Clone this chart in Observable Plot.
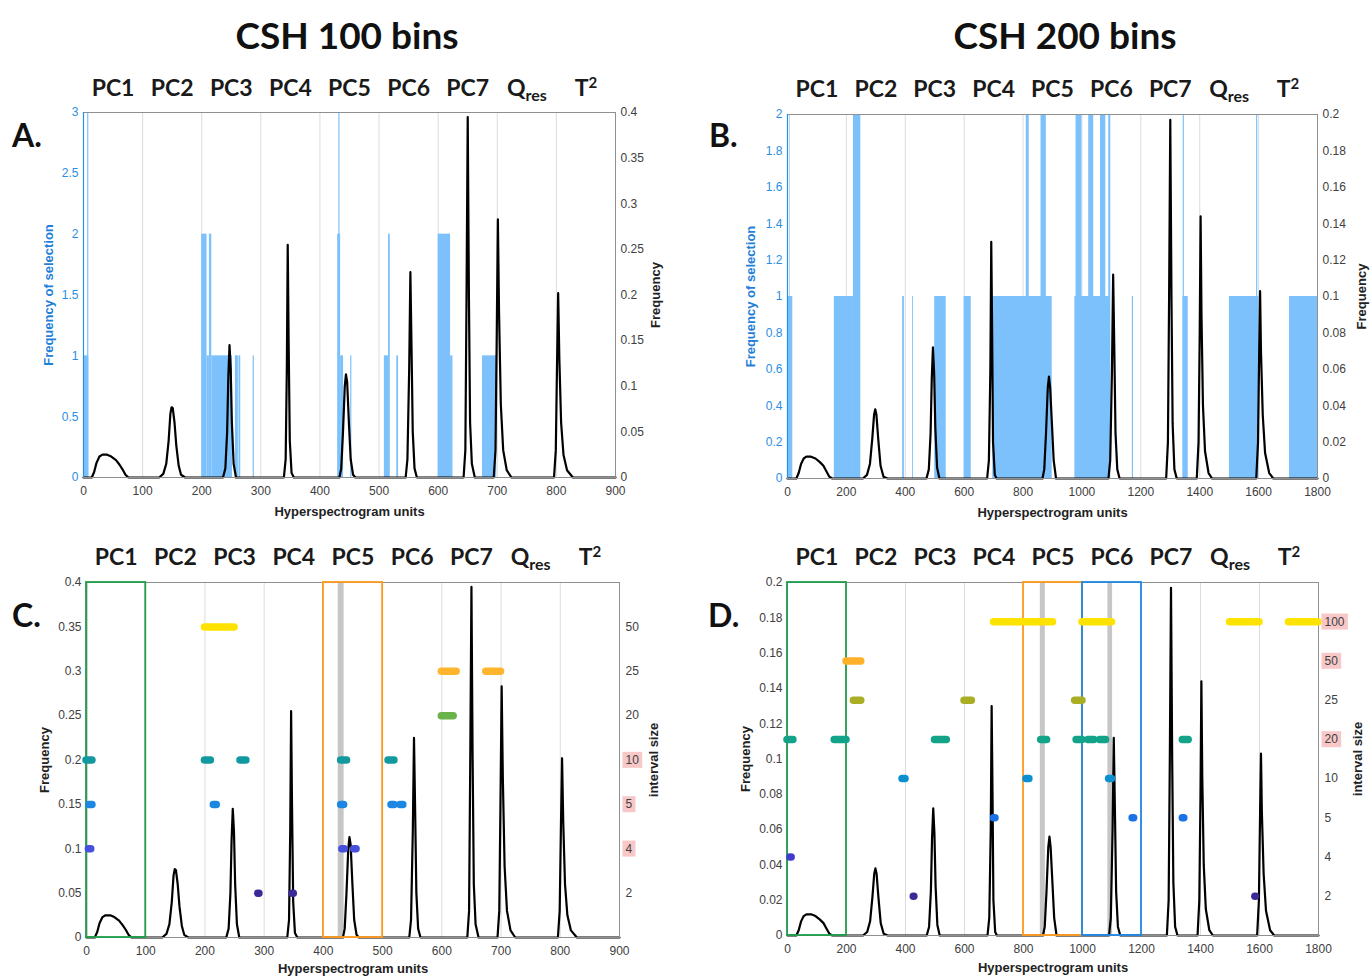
<!DOCTYPE html>
<html><head><meta charset="utf-8">
<script src="https://cdn.jsdelivr.net/npm/d3@7"></script>
<script src="https://cdn.jsdelivr.net/npm/@observablehq/plot@0.6"></script>
<style>
body{margin:0;background:#fff;}
#wrap{position:relative;width:1370px;height:978px;overflow:hidden;background:#fff;}
.t{position:absolute;font-family:Lato,"Open Sans",sans-serif;font-weight:700;color:#111;line-height:1;white-space:nowrap;}
.title{font-size:37px;width:400px;text-align:center;}
.letter{font-size:32px;}
</style></head><body><div id="wrap"></div>
<script>
// ---------- data ----------
const pcLabels = ["PC1","PC2","PC3","PC4","PC5","PC6","PC7","Qres","T2"];
const xTicks100 = [0,100,200,300,400,500,600,700,800,900];
const xTicks200 = [0,200,400,600,800,1000,1200,1400,1600,1800];
const selTicksA = [0,0.5,1,1.5,2,2.5,3];
const selTicksB = [0,0.2,0.4,0.6,0.8,1,1.2,1.4,1.6,1.8,2];
const freqTicks100 = [0,0.05,0.1,0.15,0.2,0.25,0.3,0.35,0.4];
const freqTicks200 = [0,0.02,0.04,0.06,0.08,0.1,0.12,0.14,0.16,0.18,0.2];

// frequency curve, 100 bins (x unit, frequency)
const curve100 = [[0,0],[14,0],[18,0.006],[22,0.016],[27,0.023],[32,0.025],[40,0.025],[47,0.023],[55,0.019],[61,0.014],[66,0.009],[71,0.003],[76,0],
[128,0],[135,0.004],[140,0.015],[144,0.04],[147,0.07],[149,0.077],[151,0.076],[154,0.06],[157,0.035],[161,0.013],[165,0.003],[172,0],
[236,0],[240,0.01],[243,0.05],[245,0.11],[247,0.145],[249,0.12],[251,0.06],[254,0.015],[258,0],
[339,0],[342,0.02],[344,0.12],[345.5,0.255],[347,0.15],[349,0.04],[352,0.005],[356,0],
[433,0],[436,0.01],[439,0.05],[442,0.1],[444,0.113],[446,0.105],[449,0.06],[452,0.02],[456,0.003],[460,0],
[545,0],[548,0.02],[551,0.12],[553,0.225],[555,0.14],[557,0.05],[560,0.01],[564,0],
[643,0],[646,0.03],[648,0.2],[650,0.395],[652,0.2],[654,0.06],[657,0.015],[662,0],
[694,0],[697,0.03],[699,0.15],[701,0.283],[703,0.18],[706,0.08],[710,0.03],[716,0.008],[724,0],
[796,0],[799,0.03],[801,0.12],[803,0.202],[805,0.13],[808,0.06],[812,0.025],[818,0.008],[828,0],[900,0]];

// frequency curve, 200 bins
const curve200 = [[0,0],[30,0],[38,0.003],[46,0.008],[55,0.011],[64,0.012],[80,0.012],[95,0.011],[110,0.009],[122,0.007],[132,0.004],[142,0.001],[152,0],
[256,0],[270,0.002],[280,0.008],[288,0.022],[294,0.035],[298,0.038],[302,0.035],[308,0.022],[316,0.007],[326,0.001],[340,0],
[472,0],[480,0.005],[486,0.025],[490,0.055],[494,0.072],[498,0.058],[502,0.028],[508,0.006],[516,0],
[678,0],[684,0.01],[689,0.06],[692,0.13],[695,0.08],[698,0.02],[704,0.002],[710,0],
[866,0],[872,0.005],[878,0.025],[884,0.05],[888,0.056],[892,0.05],[898,0.03],[904,0.01],[912,0],
[1090,0],[1096,0.01],[1102,0.06],[1106,0.112],[1110,0.07],[1114,0.025],[1120,0.005],[1128,0],
[1286,0],[1292,0.02],[1296,0.1],[1300,0.197],[1304,0.1],[1308,0.03],[1314,0.005],[1322,0],
[1390,0],[1396,0.02],[1400,0.08],[1403,0.144],[1406,0.09],[1411,0.04],[1418,0.015],[1430,0.003],[1442,0],
[1592,0],[1598,0.02],[1602,0.07],[1605,0.103],[1608,0.07],[1614,0.035],[1622,0.014],[1636,0.003],[1650,0],[1800,0]];

// selection frequency bars [x1, x2, count]
const barsA = [[0,9,1],[7,9,3],[200,209,2],[209,213,1],[213,217,2],[217,252,1],[257,262,1],[263,266,1],[287,289,1],
[430,435,2],[432,434,3],[435,440,1],[452,454,1],[509,516,1],[516,519,2],[530,533,1],[600,621,2],[621,625,1],[675,699,1]];
const barsB = [[0,18,1],[8,10,2],[159,224,1],[224,249,2],[391,397,1],[425,428,1],[500,539,1],[600,624,1],[697,899,1],
[811,821,2],[861,879,2],[976,1097,1],[980,1000,2],[1023,1040,2],[1063,1081,2],[1091,1098,2],[1171,1175,1],
[1343,1361,1],[1344,1348,2],[1501,1601,1],[1593,1597,2],[1705,1800,1]];

// interval size levels and selected intervals [size, x1, x2]
const sizesC = [2,4,5,10,20,25,50];
const colorsC = ["#3b2a96","#4650dc","#1b87e3","#12989f","#6ab34a","#ffb62e","#ffe200"];
const highlightC = ["4","5","10"];
const markersC = [[50,200,250],[25,600,625],[25,675,700],[20,600,620],
[10,0,10],[10,200,210],[10,260,270],[10,430,440],[10,510,520],
[5,5,10],[5,215,220],[5,430,435],[5,515,520],[5,530,535],
[4,4,8],[4,432,436],[4,452,456],[2,290,292],[2,348,350]];
const bandsC = [[0,3],[425,435]];
const boxesC = [[0,100,"#1f9e4b"],[400,500,"#ff9a1c"]];

const sizesD = [2,4,5,10,20,25,50,100];
const colorsD = ["#3b2a96","#4338d0","#1a72e6","#0b8fd0","#12a388","#a9ae25","#ffb12a","#ffe300"];
const highlightD = ["20","50","100"];
const markersD = [[100,700,900],[100,1000,1100],[100,1500,1600],[100,1700,1800],
[50,200,250],[25,225,250],[25,600,625],[25,975,1000],
[20,0,20],[20,160,200],[20,500,540],[20,860,880],[20,980,1000],[20,1020,1040],[20,1060,1080],[20,1340,1360],
[10,390,400],[10,810,820],[10,1090,1100],[5,700,705],[5,1170,1175],[5,1340,1345],[4,10,14],[2,428,430],[2,1586,1588]];
const bandsD = [[857,874],[1086,1102]];
const boxesD = [[0,200,"#1f9e4b"],[800,1000,"#ff9a1c"],[1000,1200,"#1e88e5"]];

// ---------- styles ----------
const axisGray = "#404040";
const selBlue = "#2b8ee2";
const barFill = "#7cc1fb";
const tickFont = "Liberation Sans, Arial, sans-serif";

function mappedAxis(vals, k, labels, opts) {
  const m = new Map(vals.map((v, i) => [v * k, labels ? labels[i] : String(v)]));
  return Plot.axisY([...m.keys()], {tickSize: 0, tickPadding: 5, label: null, fontFamily: tickFont, fontSize: 12, ...opts, tickFormat: d => m.get(d)});
}
function pcText(bin, dy) {
  return Plot.text(pcLabels, {x: (d, i) => (i + 0.5) * bin, frameAnchor: "top", dy, lineAnchor: "middle",
    fontFamily: "Lato", fontWeight: "bold", fontSize: 23, fill: "#1a1a1a"});
}
function sideLabel(text, anchor, dx, fill) {
  return Plot.text([text], {frameAnchor: anchor, rotate: -90, dx, textAnchor: "middle", lineAnchor: "middle",
    fontFamily: tickFont, fontWeight: "bold", fontSize: 13, fill});
}
function bottomLabel(dy) {
  return Plot.text(["Hyperspectrogram units"], {frameAnchor: "bottom", dy, textAnchor: "middle", lineAnchor: "middle",
    fontFamily: tickFont, fontWeight: "bold", fontSize: 13, fill: "#222"});
}
function xAxis(ticks) {
  return Plot.axisX(ticks, {tickSize: 0, tickPadding: 9, label: null, fill: axisGray, fontFamily: tickFont, fontSize: 12,
    tickFormat: d => String(d)});
}

// ---------- panel A / B : selection bars + frequency curve ----------
function selPanel(o) {
  const k = o.selMax / o.freqMax;
  return Plot.plot({
    width: o.w, height: o.h, marginLeft: o.ml, marginRight: o.mr, marginTop: o.mt, marginBottom: o.mb,
    x: {domain: [0, o.xMax]}, y: {domain: [0, o.selMax]},
    style: {background: "transparent", overflow: "visible"},
    marks: [
      Plot.gridX(o.xTicks, {stroke: "#dcdcdc", strokeOpacity: 1}),
      Plot.rect(o.bars, {x1: d => d[0], x2: d => d[1], y1: () => 0, y2: d => d[2], fill: barFill}),
      Plot.line(o.curve, {x: d => d[0], y: d => d[1] * k, stroke: "#000", strokeWidth: 2.2, strokeLinejoin: "round"}),
      Plot.frame({stroke: "#8f8f8f"}),
      Plot.ruleX([0], {stroke: selBlue, strokeWidth: 1.2}),
      mappedAxis(o.selTicks, 1, null, {anchor: "left", fill: selBlue}),
      mappedAxis(o.freqTicks, k, null, {anchor: "right", fill: axisGray}),
      xAxis(o.xTicks),
      pcText(o.bin, o.pcDy),
      sideLabel("Frequency of selection", "left", o.lDx, "#1f80d8"),
      sideLabel("Frequency", "right", o.rDx, "#222"),
      bottomLabel(o.bDy)
    ]
  });
}

// ---------- panel C / D : frequency curve + interval markers ----------
function intPanel(o) {
  const step = o.freqMax / (o.sizes.length + 1);
  const lvlTicks = o.sizes.map((s, i) => (i + 1) * step);
  const m = new Map(lvlTicks.map((v, i) => [v, String(o.sizes[i])]));
  return Plot.plot({
    width: o.w, height: o.h, marginLeft: o.ml, marginRight: o.mr, marginTop: o.mt, marginBottom: o.mb,
    x: {domain: [0, o.xMax]}, y: {domain: [0, o.freqMax]}, color: {type: "identity"},
    style: {background: "transparent", overflow: "visible"},
    marks: [
      Plot.gridX(o.xTicks, {stroke: "#dcdcdc", strokeOpacity: 1}),
      Plot.rect(o.bands, {x1: d => d[0], x2: d => d[1], fill: "#c6c6c6"}),
      Plot.line(o.curve, {x: d => d[0], y: d => d[1], stroke: "#000", strokeWidth: 2.2, strokeLinejoin: "round"}),
      Plot.frame({stroke: "#8f8f8f"}),
      Plot.rect(o.boxes, {x1: d => d[0], x2: d => d[1], fill: "none", stroke: d => d[2], strokeWidth: 1.8}),
      Plot.ruleY(o.markers, {y: d => (o.sizes.indexOf(d[0]) + 1) * step, x1: d => d[1], x2: d => d[2],
        stroke: d => o.colors[o.sizes.indexOf(d[0])], strokeWidth: 7.5, strokeLinecap: "round"}),
      mappedAxis(o.freqTicks, 1, null, {anchor: "left", fill: axisGray}),
      Plot.axisY(lvlTicks, {anchor: "right", tickSize: 0, tickPadding: 6, label: null, fill: axisGray,
        fontFamily: tickFont, fontSize: 12, tickFormat: d => m.get(d)}),
      xAxis(o.xTicks),
      pcText(o.bin, o.pcDy),
      sideLabel("Frequency", "left", o.lDx, "#222"),
      sideLabel("interval size", "right", o.rDx, "#222"),
      bottomLabel(o.bDy)
    ]
  });
}

const wrap = document.getElementById("wrap");
function place(svg, left, top) {
  svg.style.position = "absolute";
  svg.style.left = left + "px";
  svg.style.top = top + "px";
  wrap.appendChild(svg);
  d3.select(svg).selectAll("text").each(function () {
    const t = this.textContent;
    if (t === "Qres") {
      this.textContent = "";
      d3.select(this).append("tspan").text("Q");
      d3.select(this).append("tspan").attr("font-size", "16px").attr("dy", "0.35em").text("res");
    } else if (t === "T2") {
      this.textContent = "";
      d3.select(this).append("tspan").text("T");
      d3.select(this).append("tspan").attr("font-size", "15px").attr("dy", "-0.55em").text("2");
    }
  });
}
function highlight(svg, labels, minX) {
  d3.select(svg).selectAll("text").filter(function () {
    const b = this.getBBox();
    const m = this.getCTM();
    return labels.includes(this.textContent) && m && (m.e + b.x) > minX;
  }).each(function () {
    const b = this.getBBox();
    d3.select(this.parentNode).insert("rect", () => this)
      .attr("transform", this.getAttribute("transform"))
      .attr("x", b.x - 3).attr("y", b.y - 1).attr("width", b.width + 6).attr("height", b.height + 2)
      .attr("fill", "#f8c8c8");
  });
}

const A = selPanel({bars: barsA, curve: curve100, xMax: 900, xTicks: xTicks100, selTicks: selTicksA, freqTicks: freqTicks100,
  selMax: 3, freqMax: 0.4, bin: 100, w: 685, h: 465, ml: 83, mr: 70, mt: 52, mb: 48, pcDy: -24, lDx: -35, rDx: 40, bDy: 34});
place(A, 0, 60);
const B = selPanel({bars: barsB, curve: curve200, xMax: 1800, xTicks: xTicks200, selTicks: selTicksB, freqTicks: freqTicks200,
  selMax: 2, freqMax: 0.2, bin: 200, w: 670, h: 465, ml: 87, mr: 53, mt: 54, mb: 47, pcDy: -25, lDx: -37, rDx: 44, bDy: 34});
place(B, 700, 60);

const C = intPanel({curve: curve100, markers: markersC, sizes: sizesC, colors: colorsC, bands: bandsC, boxes: boxesC,
  xMax: 900, xTicks: xTicks100, freqTicks: freqTicks100, freqMax: 0.4, bin: 100,
  w: 685, h: 443, ml: 86, mr: 66, mt: 47, mb: 41, pcDy: -25, lDx: -42, rDx: 34, bDy: 31});
place(C, 0, 535);
highlight(C, highlightC, 619);
const D = intPanel({curve: curve200, markers: markersD, sizes: sizesD, colors: colorsD, bands: bandsD, boxes: boxesD,
  xMax: 1800, xTicks: xTicks200, freqTicks: freqTicks200, freqMax: 0.2, bin: 200,
  w: 670, h: 443, ml: 87, mr: 52, mt: 47, mb: 43, pcDy: -25, lDx: -42, rDx: 39, bDy: 32});
place(D, 700, 535);
highlight(D, highlightD, 618);

// titles and panel letters
function addText(cls, txt, left, top) {
  const d = document.createElement("div");
  d.className = "t " + cls;
  d.textContent = txt;
  d.style.left = left + "px";
  d.style.top = top + "px";
  wrap.appendChild(d);
}
addText("title", "CSH 100 bins", 147, 16);
addText("title", "CSH 200 bins", 865, 16);
addText("letter", "A.", 12, 119);
addText("letter", "B.", 709, 119);
addText("letter", "C.", 12, 599);
addText("letter", "D.", 708, 599);
</script></body></html>
